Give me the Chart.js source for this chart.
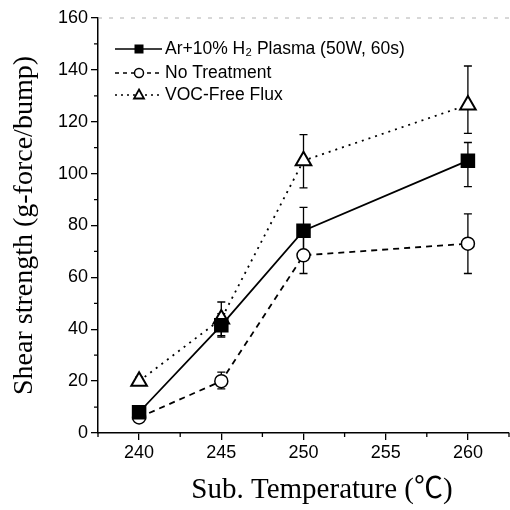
<!DOCTYPE html>
<html><head><meta charset="utf-8">
<script src="https://cdn.jsdelivr.net/npm/chart.js@4/dist/chart.umd.min.js"></script>
<style>html,body{margin:0;padding:0;background:#fff;overflow:hidden;width:510px;height:510px}
#wrap{position:absolute;left:0;top:0;width:520px;height:510px}</style>
</head><body><div id="wrap"><canvas id="c" width="520" height="510"></canvas></div>
<script>
const temps = [240, 245, 250, 260];
const arH2 = [8, 41.5, 78, 105];
const arErrLo = [1.5, 4.5, 9, 10];
const arErrHi = [1.5, 4.5, 9, 7];
const noTreat = [6, 20, 68.5, 73];
const ntErrLo = [1.5, 3, 7, 11.5];
const ntErrHi = [1.5, 3.5, 7, 11.5];
const vocFree = [20, 44, 105, 126.5];
const vocErrLo = [1.5, 6.5, 10.5, 11];
const vocErrHi = [1.5, 6.5, 10, 15];
const seriesNames = ['Ar+10% H\u2082 Plasma (50W, 60s)', 'No Treatment', 'VOC-Free Flux'];
const yTicks = [0, 20, 40, 60, 80, 100, 120, 140, 160];
const xTicks = [240, 245, 250, 255, 260];
const xTitle = 'Sub. Temperature (\u2103)';
const yTitle = 'Shear strength (g-force/bump)';

function pts(vals){ return temps.map((t,i)=>({x:t,y:vals[i]})); }
const errs = [[arErrLo,arErrHi],[ntErrLo,ntErrHi],[vocErrLo,vocErrHi]];

const errorBars = {
  id:'errorBars',
  beforeDatasetsDraw(chart){
    const ctx = chart.ctx, xs = chart.scales.x, ys = chart.scales.y;
    ctx.save(); ctx.strokeStyle='#000'; ctx.lineWidth=1.3; ctx.setLineDash([]);
    chart.data.datasets.forEach((ds,di)=>{
      ds.data.forEach((p,i)=>{
        const px = xs.getPixelForValue(p.x);
        const top = ys.getPixelForValue(p.y + errs[di][1][i]);
        const bot = ys.getPixelForValue(p.y - errs[di][0][i]);
        ctx.beginPath(); ctx.moveTo(px,top); ctx.lineTo(px,bot);
        ctx.moveTo(px-4,top); ctx.lineTo(px+4,top);
        ctx.moveTo(px-4,bot); ctx.lineTo(px+4,bot); ctx.stroke();
      });
    });
    ctx.restore();
  }
};

const axesDeco = {
  id:'axesDeco',
  afterDraw(chart){
    const ctx = chart.ctx, xs = chart.scales.x, ys = chart.scales.y, a = chart.chartArea;
    ctx.save(); ctx.strokeStyle='#000'; ctx.lineWidth=1.3;
    ctx.beginPath();
    for(let v=10; v<160; v+=20){ const py=ys.getPixelForValue(v); ctx.moveTo(a.left-4,py); ctx.lineTo(a.left,py); }
    for(let v=237.5; v<=262.5; v+=5){ const px=xs.getPixelForValue(v); ctx.moveTo(px,a.bottom); ctx.lineTo(px,a.bottom+4); }
    ctx.stroke();
    ctx.strokeStyle='#b0b0b0'; ctx.lineWidth=1; ctx.setLineDash([4,7]);
    ctx.beginPath(); ctx.moveTo(a.left,a.top); ctx.lineTo(a.right,a.top); ctx.stroke();
    ctx.setLineDash([]);
    // legend
    const lx0 = 115, lx1 = 162, rows=[49,73,95];
    const styles=[[],[4,4],[2,4]];
    ctx.font='17.5px "Liberation Sans", Arial, sans-serif'; ctx.fillStyle='#000'; ctx.textBaseline='middle'; ctx.textAlign='left';
    rows.forEach((ry,i)=>{
      ctx.strokeStyle='#000'; ctx.lineWidth=1.5; ctx.setLineDash(styles[i]);
      ctx.beginPath(); ctx.moveTo(lx0,ry); ctx.lineTo(lx1,ry); ctx.stroke(); ctx.setLineDash([]);
      const cx=139;
      if(i===0){ ctx.fillRect(cx-4.5,ry-4.5,9,9); }
      else if(i===1){ ctx.beginPath(); ctx.arc(cx,ry,4.5,0,Math.PI*2); ctx.fillStyle='#fff'; ctx.fill(); ctx.stroke(); }
      else { ctx.beginPath(); ctx.moveTo(cx,ry-5.5); ctx.lineTo(cx+5,ry+3.5); ctx.lineTo(cx-5,ry+3.5); ctx.closePath(); ctx.fillStyle='#fff'; ctx.fill(); ctx.lineWidth=1.8; ctx.stroke(); }
      ctx.fillStyle='#000';
      ctx.fillText(seriesNames[i], 165, ry);
    });
    // x axis title
    ctx.font='29px "Liberation Serif", "Noto Sans CJK SC", serif';
    ctx.textAlign='center'; ctx.textBaseline='middle';
    ctx.fillText(xTitle, 322, 490);
    ctx.restore();
  }
};

new Chart(document.getElementById('c'), {
  type:'line',
  data:{datasets:[
    {label:seriesNames[0], data:pts(arH2), borderColor:'#000', borderWidth:1.8, pointStyle:'rect', pointRadius:9, pointBackgroundColor:'#000', pointBorderColor:'#000', showLine:true, tension:0},
    {label:seriesNames[1], data:pts(noTreat), borderColor:'#000', borderWidth:1.8, borderDash:[6,5], pointStyle:'circle', pointRadius:6.5, pointBackgroundColor:'#fff', pointBorderColor:'#000', pointBorderWidth:1.5, tension:0},
    {label:seriesNames[2], data:pts(vocFree), borderColor:'#000', borderWidth:1.8, borderDash:[2,5], pointStyle:'triangle', pointRadius:9, pointBackgroundColor:'#fff', pointBorderColor:'#000', pointBorderWidth:2, tension:0}
  ]},
  options:{
    responsive:false, animation:false, devicePixelRatio:1,
    layout:{padding:{top:18,right:5,left:0,bottom:0}},
    plugins:{legend:{display:false}, tooltip:{enabled:false}},
    scales:{
      x:{type:'linear', min:237.5, max:262.5,
        afterBuildTicks(s){ s.ticks = xTicks.map(v=>({value:v})); },
        afterFit(s){ s.height = 77; },
        border:{display:true,color:'#000',width:1.5},
        grid:{drawOnChartArea:false, drawTicks:true, tickLength:7, color:'#000', lineWidth:1.3},
        ticks:{color:'#000', font:{family:'"Liberation Sans", Arial, sans-serif', size:18}, padding:2, maxRotation:0},
        title:{display:false}
      },
      y:{type:'linear', min:0, max:160,
        afterBuildTicks(s){ s.ticks = yTicks.map(v=>({value:v})); },
        afterFit(s){ s.width = 98; },
        border:{display:true,color:'#000',width:1.5},
        grid:{drawOnChartArea:false, drawTicks:true, tickLength:7, color:'#000', lineWidth:1.3},
        ticks:{color:'#000', font:{family:'"Liberation Sans", Arial, sans-serif', size:18}, padding:3},
        title:{display:true, text:yTitle, color:'#000', font:{family:'"Liberation Serif", "Times New Roman", serif', size:28}, padding:{top:8,bottom:4}}
      }
    }
  },
  plugins:[errorBars, axesDeco]
});
</script></body></html>
